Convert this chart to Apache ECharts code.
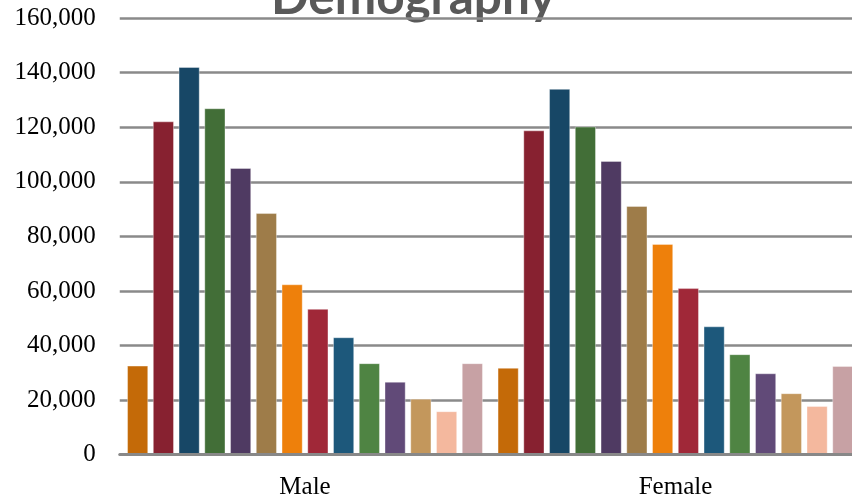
<!DOCTYPE html>
<html>
<head>
<meta charset="utf-8">
<style>
  html, body { margin: 0; padding: 0; background: #fff; }
  #chart { width: 852px; height: 500px; }
</style>
<script src="https://cdn.jsdelivr.net/npm/echarts@6/dist/echarts.min.js"></script>
</head>
<body>
<div id="chart"></div>
<script>
// Population counts by group, split by sex
const categories = ['Male', 'Female'];
const groupNames = [
  'Group 1', 'Group 2', 'Group 3', 'Group 4', 'Group 5', 'Group 6', 'Group 7',
  'Group 8', 'Group 9', 'Group 10', 'Group 11', 'Group 12', 'Group 13', 'Group 14'
];
const maleValues = [32600, 122100, 142000, 126900, 105000, 88500, 62400,
                    53400, 43000, 33500, 26700, 20500, 15900, 33500];
const femaleValues = [31800, 118800, 134000, 120200, 107600, 91100, 77200,
                      61000, 47000, 36800, 29800, 22500, 17800, 32500];
const yTicks = [0, 20000, 40000, 60000, 80000, 100000, 120000, 140000, 160000];

const palette = ['#C46A08', '#872130', '#174766', '#426E37', '#4F3A62', '#9E7C49', '#EE800B',
                 '#A02838', '#1D587B', '#4F8443', '#614A78', '#C3975C', '#F4B89E', '#C7A1A4'];

const series = groupNames.map((name, i) => ({
  name: name,
  type: 'bar',
  data: [maleValues[i], femaleValues[i]],
  barWidth: 21,
  barGap: '22.6%',
  itemStyle: {
    color: palette[i],
    borderColor: 'rgba(255,255,255,0.45)',
    borderWidth: 0.8
  },
  z: 3
}));

const chart = echarts.init(document.getElementById('chart'), null, { renderer: 'canvas' });
chart.setOption({
  animation: false,
  backgroundColor: '#ffffff',
  graphic: [{
    type: 'text',
    left: 271,
    top: -27,
    z: -10,
    style: {
      text: 'Demography',
      font: 'bold 49.5px Lato',
      fill: '#595959'
    }
  }],
  // plot area runs slightly past the right edge of the canvas
  grid: {
    left: 119.75, width: 741, top: 18, bottom: 45.3,
    containLabel: false,
    outerBoundsMode: 'none'
  },
  xAxis: {
    type: 'category',
    data: categories,
    axisTick: { show: false },
    axisLine: { show: true, lineStyle: { color: '#888888', width: 3 } },
    axisLabel: {
      margin: 20,
      color: '#000',
      fontFamily: 'Liberation Serif',
      fontSize: 25
    },
    z: 4
  },
  yAxis: {
    type: 'value',
    min: yTicks[0],
    max: yTicks[yTicks.length - 1],
    interval: yTicks[1] - yTicks[0],
    axisLine: { show: false },
    axisTick: { show: false },
    splitLine: { lineStyle: { color: '#8a8a8a', width: 2.6 } },
    axisLabel: {
      margin: 24,
      color: '#000',
      fontFamily: 'Liberation Serif',
      fontSize: 25,
      formatter: v => v.toLocaleString('en-US')
    }
  },
  series: series
});
</script>
</body>
</html>
